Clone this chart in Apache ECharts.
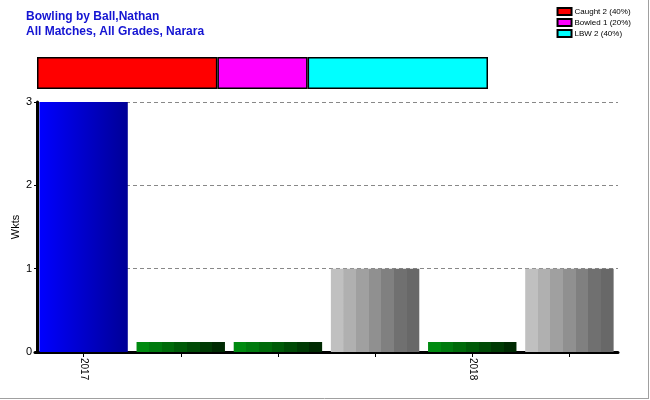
<!DOCTYPE html>
<html><head><meta charset="utf-8">
<script src="https://cdn.jsdelivr.net/npm/echarts@6/dist/echarts.min.js"></script>
<style>html,body{margin:0;padding:0;background:#fff}#c{width:650px;height:400px}</style>
</head><body><div id="c"></div>
<script>
const categories = ['2017', '', '', '', '2018', ''];
const wickets = [3, 0.12, 0.12, 1, 0.12, 1];
const barKinds = ['blue', 'green', 'green', 'gray', 'green', 'gray'];
const dismissalNames = ['Caught', 'Bowled', 'LBW'];
const dismissalCounts = [2, 1, 2];
const dismissalColors = ['#ff0000', '#ff00ff', '#00ffff'];
const yTicks = [0, 1, 2, 3];

function grad(stops) {
  return new echarts.graphic.LinearGradient(0, 0, 1, 0, stops);
}
function stepped(cols) {
  const s = [];
  const n = cols.length;
  cols.forEach((c, i) => { s.push({offset: i / n, color: c}); s.push({offset: (i + 1) / n - 0.0001, color: c}); });
  return grad(s);
}
const fills = {
  blue: grad([{offset: 0, color: '#0000ff'}, {offset: 1, color: '#000096'}]),
  green: stepped(['#008a10', '#007a0e', '#006a0a', '#005a08', '#004a06', '#003a04', '#002a02']),
  gray: stepped(['#c0c0c0', '#b0b0b0', '#a0a0a0', '#909090', '#808080', '#707070', '#686868'])
};
const total = dismissalCounts.reduce((a, b) => a + b, 0);
const labels = dismissalNames.map((n, i) => n + ' ' + dismissalCounts[i] + ' (' + Math.round(dismissalCounts[i] / total * 100) + '%)');

const chart = echarts.init(document.getElementById('c'));
chart.setOption({
  animation: false,
  textStyle: {fontFamily: 'Liberation Sans, Arial, sans-serif'},
  title: {
    text: 'Bowling by Ball,Nathan\nAll Matches, All Grades, Narara',
    left: 21, top: 4,
    textStyle: {color: '#1414d2', fontSize: 12, fontWeight: 'bold', lineHeight: 15, fontFamily: 'Liberation Sans, Arial, sans-serif'}
  },
  legend: {
    orient: 'vertical', right: 14, top: 2, itemGap: 2,
    itemWidth: 14, itemHeight: 7, icon: 'rect',
    data: labels,
    textStyle: {fontSize: 8, color: '#000', padding: [0, 0, 0, -2]}
  },
  grid: [
    {left: 35, right: 32, top: 102, bottom: 48, outerBoundsMode: 'none', containLabel: false},
    {left: 37, top: 57, width: 451, height: 32, outerBoundsMode: 'none', containLabel: false}
  ],
  xAxis: [
    {
      type: 'category', data: categories, gridIndex: 0,
      axisLine: {lineStyle: {color: '#000', width: 3}},
      axisTick: {show: true, alignWithLabel: true, interval: 0, length: 5, lineStyle: {color: '#000'}},
      axisLabel: {interval: 0, rotate: -90, fontSize: 10, color: '#000', margin: 6}
    },
    {type: 'value', gridIndex: 1, min: 0, max: total, show: false}
  ],
  yAxis: [
    {
      type: 'value', gridIndex: 0, min: yTicks[0], max: yTicks[yTicks.length - 1], interval: 1,
      offset: -2,
      name: 'Wkts', nameLocation: 'middle', nameGap: 16, nameRotate: 90, nameMoveOverlap: false,
      nameTextStyle: {fontSize: 11, color: '#000'},
      axisLine: {show: true, lineStyle: {color: '#000', width: 3}},
      axisTick: {show: true, length: 3, lineStyle: {color: '#000'}},
      axisLabel: {fontSize: 11, color: '#000', margin: 5},
      splitLine: {show: true, lineStyle: {color: '#888', type: [4, 3], width: 1}}
    },
    {type: 'category', gridIndex: 1, data: [''], show: false}
  ],
  series: [
    {
      type: 'bar', xAxisIndex: 0, yAxisIndex: 0, barCategoryGap: '9%',
      data: wickets.map((v, i) => ({value: v, itemStyle: {color: fills[barKinds[i]]}}))
    }
  ].concat(dismissalNames.map((n, i) => ({
    type: 'bar', name: labels[i], xAxisIndex: 1, yAxisIndex: 1, stack: 'd',
    barWidth: '100%', data: [dismissalCounts[i]],
    itemStyle: {color: dismissalColors[i], borderColor: '#000', borderWidth: 1.5}
  }))),
  graphic: [
    {type: 'line', shape: {x1: 648.5, y1: 0, x2: 648.5, y2: 399}, style: {stroke: '#a0a0a0', lineWidth: 1}},
    {type: 'line', shape: {x1: 0, y1: 398.5, x2: 649, y2: 398.5}, style: {stroke: '#a0a0a0', lineWidth: 1}}
  ]
});
</script></body></html>
